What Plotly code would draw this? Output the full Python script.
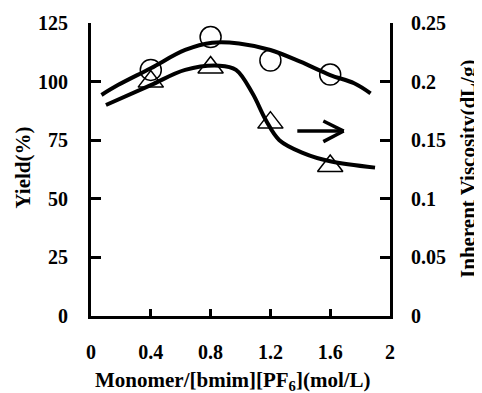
import plotly.graph_objects as go

# Measured points
conc = [0.4, 0.8, 1.2, 1.6]
yield_pct = [105, 119, 109, 103]
viscosity = [0.200, 0.212, 0.165, 0.128]

# Fitted curves
fit_yield_x = [0.07, 0.18, 0.4, 0.63, 0.81, 0.99, 1.2, 1.4, 1.6, 1.76, 1.87]
fit_yield_y = [94.3, 98.5, 105.7, 113.5, 116.6, 116.3, 113.5, 108.5, 102.8, 99.3, 95.0]
fit_visc_x = [0.10, 0.4, 0.63, 0.86, 0.97, 1.08, 1.17, 1.26, 1.42, 1.6, 1.9]
fit_visc_y = [0.180, 0.197, 0.210, 0.2136, 0.210, 0.190, 0.167, 0.150, 0.139, 0.132, 0.1266]

x_ticks = [0, 0.4, 0.8, 1.2, 1.6, 2]
x_tick_labels = ["0", "0.4", "0.8", "1.2", "1.6", "2"]
y_ticks = [0, 25, 50, 75, 100, 125]
y2_ticks = [0, 0.05, 0.1, 0.15, 0.2, 0.25]
y2_tick_labels = ["0", "0.05", "0.1", "0.15", "0.2", "0.25"]

x_title = "Monomer/[bmim][PF<sub>6</sub>](mol/L)"
y_title = "Yield(%)"
y2_title = "Inherent Viscosity(dL/g)"

FONT = "Liberation Serif"

fig = go.Figure()
fig.add_trace(go.Scatter(x=fit_yield_x, y=fit_yield_y, mode="lines",
                         line=dict(color="black", width=4, shape="spline", smoothing=1.0),
                         showlegend=False, hoverinfo="skip"))
fig.add_trace(go.Scatter(x=fit_visc_x, y=fit_visc_y, mode="lines", yaxis="y2",
                         line=dict(color="black", width=4, shape="spline", smoothing=1.0),
                         showlegend=False, hoverinfo="skip"))
fig.add_trace(go.Scatter(x=conc, y=yield_pct, mode="markers",
                         marker=dict(symbol="circle-open", size=21, color="black",
                                     line=dict(width=1.5, color="black")),
                         showlegend=False))
fig.add_trace(go.Scatter(x=conc, y=viscosity, mode="markers", yaxis="y2",
                         marker=dict(symbol="triangle-up-open", size=22, color="black",
                                     line=dict(width=1.5, color="black")),
                         showlegend=False))

# Arrow pointing to the right axis
arrow_y = 78.9
shapes = [
    dict(type="line", xref="x", yref="y", x0=1.38, x1=1.69, y0=arrow_y, y1=arrow_y,
         line=dict(color="black", width=3.5)),
    dict(type="line", xref="x", yref="y", x0=1.554, x1=1.69, y0=83.2, y1=arrow_y,
         line=dict(color="black", width=3.5)),
    dict(type="line", xref="x", yref="y", x0=1.554, x1=1.69, y0=74.4, y1=arrow_y,
         line=dict(color="black", width=3.5)),
]

tickfont = dict(family=FONT, size=20, color="black", weight="bold")
titlefont = dict(family=FONT, size=21, color="black", weight="bold")

annotations = [
    dict(text=x_title, xref="paper", yref="paper", x=0.475, y=-0.222,
         xanchor="center", yanchor="middle", showarrow=False, font=titlefont),
    dict(text=y_title, xref="paper", yref="paper", x=-0.227, y=0.507, textangle=-90,
         xanchor="center", yanchor="middle", showarrow=False, font=titlefont),
    dict(text=y2_title, xref="paper", yref="paper", x=1.261, y=0.502, textangle=-90,
         xanchor="center", yanchor="middle", showarrow=False, font=titlefont),
]

# The page body has an 8px margin, so the figure is shrunk by 8px to fit the window
fig.update_layout(
    width=474, height=385,
    margin=dict(l=83, r=92, t=15, b=77),
    paper_bgcolor="white", plot_bgcolor="white",
    shapes=shapes, annotations=annotations,
    xaxis=dict(range=[0, 2.0], tickvals=x_ticks, ticktext=x_tick_labels, automargin=False,
               ticks="inside", ticklen=7, tickwidth=3, tickcolor="black",
               showline=True, linecolor="black", linewidth=3, showgrid=False, zeroline=False,
               tickfont=tickfont, ticklabelstandoff=16),
    yaxis=dict(range=[0, 125], tickvals=y_ticks, automargin=False,
               ticks="inside", ticklen=10, tickwidth=3, tickcolor="black",
               showline=True, linecolor="black", linewidth=3, showgrid=False, zeroline=False,
               tickfont=tickfont, ticklabelstandoff=16),
    yaxis2=dict(range=[0, 0.25], tickvals=y2_ticks, ticktext=y2_tick_labels, automargin=False,
                overlaying="y", side="right", anchor="x",
                ticks="inside", ticklen=10, tickwidth=3, tickcolor="black",
                showline=True, linecolor="black", linewidth=3, showgrid=False, zeroline=False,
                tickfont=tickfont, ticklabelstandoff=14),
)

fig.write_html("out.html")
